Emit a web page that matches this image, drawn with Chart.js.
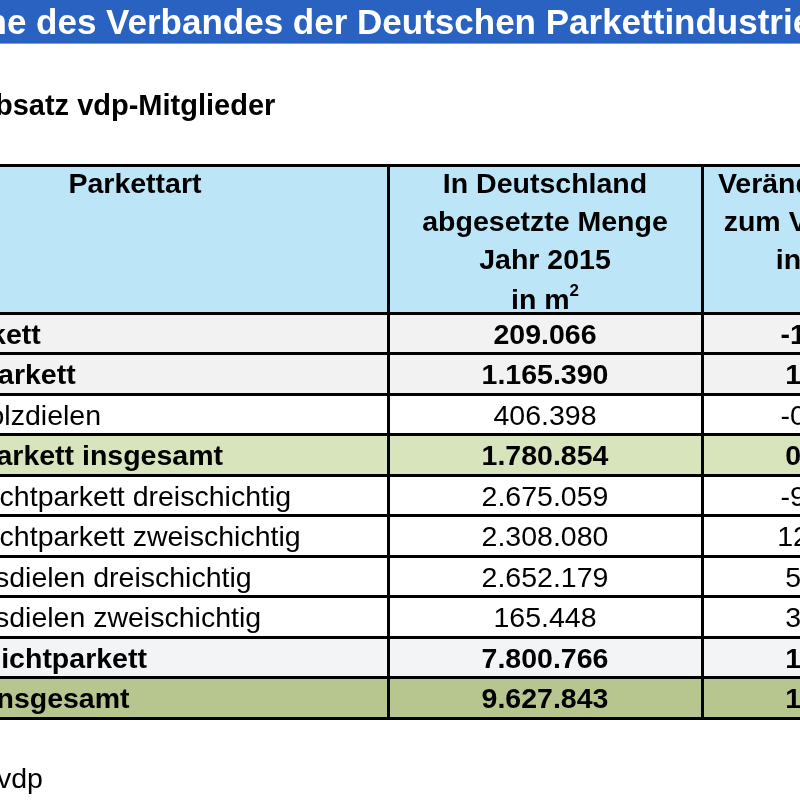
<!DOCTYPE html>
<html>
<head>
<meta charset="utf-8">
<script src="https://cdn.jsdelivr.net/npm/chart.js@4/dist/chart.umd.min.js"></script>
<style>
html, body { margin: 0; padding: 0; background: #fff; overflow: hidden; }
canvas { display: block; }
</style>
</head>
<body>
<canvas id="TableChart" width="800" height="800"></canvas>
<script>
// data
var categories = ['Stabparkett', 'Mosaikparkett', 'Massivholzdielen', 'Massivparkett insgesamt',
    'Mehrschichtparkett dreischichtig', 'Mehrschichtparkett zweischichtig',
    'Landhausdielen dreischichtig', 'Landhausdielen zweischichtig',
    'Mehrschichtparkett', 'Parkett insgesamt'];
var menge2015 = [209066, 1165390, 406398, 1780854, 2675059, 2308080, 2652179, 165448, 7800766, 9627843];
var veraenderung = [-1.8, 1.9, -0.6, 0.9, -9.8, 12.6, 5.2, 3.1, 1.9, 1.7];
var colHeaders = [
    ['Parkettart'],
    ['In Deutschland', 'abgesetzte Menge', 'Jahr 2015', 'in m²'],
    ['Veränderung', 'zum Vorjahr', 'in %']
];
var titleText = 'ne des Verbandes der Deutschen Parkettindustrie';
var subTitleText = 'Absatz vdp-Mitglieder';
var sourceText = 'vdp';

// styles / layout
var rowBold = [true, true, false, true, false, false, false, false, true, true];
var rowFill = ['#f2f2f2', '#f2f2f2', '#ffffff', '#d8e4bc', '#ffffff', '#ffffff',
    '#ffffff', '#ffffff', '#f3f4f5', '#b7c58e'];
var headerFill = '#bde5f8';
var colWidths = [506, 314, 206];
var headerHeight = 148;
var rowHeight = 40.5;
var fontFam = "'Liberation Sans', Arial, sans-serif";

var colEdges = [0];
colWidths.forEach(function (w) { colEdges.push(colEdges[colEdges.length - 1] + w); });
var rowEdges = [0, headerHeight];
categories.forEach(function () { rowEdges.push(rowEdges[rowEdges.length - 1] + rowHeight); });

function fmtNum(v) {
    return String(v).replace(/\B(?=(\d{3})+(?!\d))/g, '.');
}
function fmtPct(v) {
    return v.toFixed(1).replace('.', ',');
}

// one filled band per table row
var datasets = [];
var fills = [headerFill].concat(rowFill);
for (var i = 0; i < fills.length; i++) {
    datasets.push({
        data: [
            {x: colEdges[0], y: rowEdges[i]},
            {x: colEdges[colEdges.length - 1], y: rowEdges[i]}
        ],
        fill: {value: rowEdges[i + 1]},
        backgroundColor: fills[i],
        borderWidth: 0,
        pointRadius: 0
    });
}

var tableText = {
    id: 'tableText',
    beforeDraw: function (chart) {
        var c = chart.ctx;
        c.save();
        c.fillStyle = '#2a62c2';
        c.fillRect(0, 0, chart.width, 43);
        c.fillStyle = '#7d9fd8';
        c.fillRect(0, 43, chart.width, 1);
        c.restore();
    },
    afterDraw: function (chart) {
        var c = chart.ctx, xs = chart.scales.x, ys = chart.scales.y;
        c.save();
        c.textBaseline = 'alphabetic';

        // title and subtitle
        c.fillStyle = '#ffffff';
        c.font = 'bold 35px ' + fontFam;
        c.textAlign = 'left';
        c.fillText(titleText, -14.5, 34);
        c.fillStyle = '#000000';
        c.font = 'bold 29px ' + fontFam;
        c.fillText(subTitleText, -26, 115);
        c.font = '28.5px ' + fontFam;
        c.fillText(sourceText, -3, 788);

        // header
        var top = ys.getPixelForValue(rowEdges[0]);
        c.font = 'bold 28.5px ' + fontFam;
        c.textAlign = 'center';
        colHeaders.forEach(function (lines, ci) {
            var cx = xs.getPixelForValue((colEdges[ci] + colEdges[ci + 1]) / 2);
            lines.forEach(function (t, li) {
                var by = top + 28 + li * 38;
                if (t.indexOf('²') >= 0) {
                    var base = t.replace('²', '');
                    c.font = 'bold 28.5px ' + fontFam;
                    var w1 = c.measureText(base).width;
                    c.font = 'bold 17px ' + fontFam;
                    var w2 = c.measureText('2').width;
                    var sx = cx - (w1 + w2) / 2;
                    c.textAlign = 'left';
                    c.font = 'bold 28.5px ' + fontFam;
                    c.fillText(base, sx, by + 2);
                    c.font = 'bold 17px ' + fontFam;
                    c.fillText('2', sx + w1, by - 11);
                    c.textAlign = 'center';
                    c.font = 'bold 28.5px ' + fontFam;
                } else {
                    c.fillText(t, cx, by);
                }
            });
        });

        // body rows
        var x1 = xs.getPixelForValue(colEdges[0] + 2);
        var x2 = xs.getPixelForValue((colEdges[1] + colEdges[2]) / 2);
        var x3 = xs.getPixelForValue((colEdges[2] + colEdges[3]) / 2);
        categories.forEach(function (cat, ri) {
            var cy = ys.getPixelForValue((rowEdges[ri + 1] + rowEdges[ri + 2]) / 2) + 10.5;
            c.font = (rowBold[ri] ? 'bold ' : '') + '28.5px ' + fontFam;
            c.textAlign = 'left';
            c.fillText(cat, x1, cy);
            c.textAlign = 'center';
            c.fillText(fmtNum(menge2015[ri]), x2, cy);
            c.fillText(fmtPct(veraenderung[ri]), x3, cy);
        });
        c.restore();
    }
};

var gridLines = function (edges) {
    return function (scale) {
        scale.ticks = edges.filter(function (v) {
            return v >= scale.min && v <= scale.max;
        }).map(function (v) { return {value: v}; });
    };
};

var chart = new Chart(document.getElementById('TableChart'), {
    type: 'line',
    data: {datasets: datasets},
    options: {
        responsive: false,
        animation: false,
        devicePixelRatio: 1,
        layout: {padding: {top: 165, bottom: 82, left: 0, right: 0}},
        plugins: {
            legend: {display: false},
            title: {display: false},
            tooltip: {enabled: false}
        },
        scales: {
            x: {
                type: 'linear',
                min: 118,
                max: 918,
                afterBuildTicks: gridLines(colEdges),
                grid: {color: '#000', lineWidth: 3, drawTicks: false, z: 1},
                border: {display: false},
                ticks: {display: false, autoSkip: false}
            },
            y: {
                type: 'linear',
                reverse: true,
                min: rowEdges[0],
                max: rowEdges[rowEdges.length - 1],
                afterBuildTicks: gridLines(rowEdges),
                grid: {color: '#000', lineWidth: 3, drawTicks: false, z: 1},
                border: {display: false},
                ticks: {display: false, autoSkip: false}
            }
        }
    },
    plugins: [tableText]
});
</script>
</body>
</html>
